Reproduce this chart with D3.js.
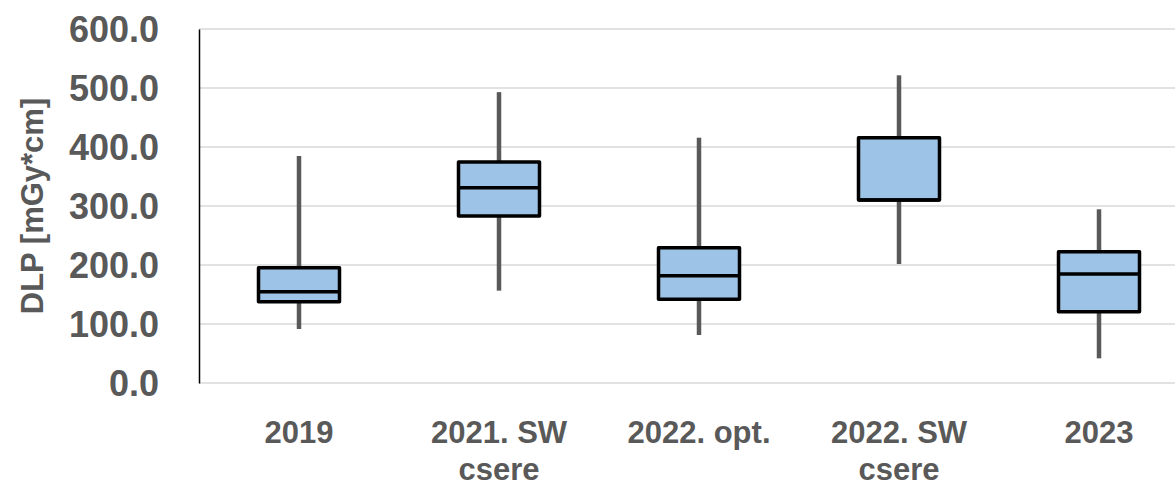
<!DOCTYPE html>
<html>
<head>
<meta charset="utf-8">
<script src="https://cdn.jsdelivr.net/npm/d3@7"></script>
<style>
    body { margin: 0; background: #fff; }
    text { font-family: "Liberation Sans", Arial, sans-serif; font-weight: bold; fill: #595959; }
</style>
</head>
<body>
<svg id="chart"></svg>
<script>
// Chart data
const categories = ["2019", "2021. SW csere", "2022. opt.", "2022. SW csere", "2023"];
const categoryLines = [["2019"], ["2021. SW", "csere"], ["2022. opt."], ["2022. SW", "csere"], ["2023"]];
const whiskerLow = [91.5, 156.5, 81.4, 201.7, 41.8];
const quartile1 = [137.8, 283.0, 141.8, 310.0, 120.9];
const medians = [154.8, 331.0, 181.9, 310.0, 184.7];
const quartile3 = [195.4, 374.6, 229.4, 415.8, 222.5];
const whiskerHigh = [384.7, 493.0, 415.8, 521.5, 294.4];
const yTicks = [0, 100, 200, 300, 400, 500, 600];

const dataset = categories.map((c, i) => ({
    cat: c,
    lines: categoryLines[i],
    min: whiskerLow[i],
    q1: quartile1[i],
    med: medians[i],
    q3: quartile3[i],
    max: whiskerHigh[i]
}));

// Dimensions
const dimensions = {
    width: 1175,
    height: 487,
    plotLeft: 199,
    plotRight: 1199,
    plotTop: 29,
    plotBottom: 383,
    boxWidth: 81
};

const svg = d3.select("#chart")
    .attr("width", dimensions.width)
    .attr("height", dimensions.height);

const xScale = d3.scaleBand()
    .domain(categories)
    .range([dimensions.plotLeft, dimensions.plotRight]);

const yScale = d3.scaleLinear()
    .domain([0, 600])
    .range([dimensions.plotBottom, dimensions.plotTop]);

// Gridlines
svg.append("g")
    .selectAll("line")
    .data(yTicks)
    .enter()
    .append("line")
    .attr("x1", dimensions.plotLeft)
    .attr("x2", dimensions.width)
    .attr("y1", d => yScale(d))
    .attr("y2", d => yScale(d))
    .attr("stroke", "#d9d9d9")
    .attr("stroke-width", 1.5);

// Y axis
const yAxis = svg.append("g")
    .attr("transform", `translate(${dimensions.plotLeft}, 0)`)
    .call(d3.axisLeft(yScale).tickValues(yTicks).tickFormat(d3.format(".1f")).tickSize(0).tickPadding(40));
yAxis.select(".domain").attr("stroke", "#000").attr("stroke-width", 1.5);
yAxis.selectAll("text")
    .attr("fill", "#595959")
    .style("font-size", "36px")
    .attr("dy", "0.36em");

// Y axis title
svg.append("text")
    .attr("transform", "translate(43, 206) rotate(-90)")
    .attr("text-anchor", "middle")
    .style("font-size", "31px")
    .text("DLP [mGy*cm]");

// X labels (wrapped like the original)
const xLabels = svg.append("g")
    .selectAll("text")
    .data(dataset)
    .enter()
    .append("text")
    .attr("text-anchor", "middle")
    .style("font-size", "31px")
    .attr("x", d => xScale(d.cat) + xScale.bandwidth() / 2)
    .attr("y", 443);
xLabels.selectAll("tspan")
    .data(d => d.lines)
    .enter()
    .append("tspan")
    .attr("x", function () { return d3.select(this.parentNode).attr("x"); })
    .attr("dy", (d, i) => i === 0 ? 0 : 37)
    .text(d => d);

// Boxes
const boxes = svg.append("g")
    .selectAll("g")
    .data(dataset)
    .enter()
    .append("g");

const cx = d => xScale(d.cat) + xScale.bandwidth() / 2;

// whiskers sit behind the box
boxes.append("line")
    .attr("x1", cx).attr("x2", cx)
    .attr("y1", d => yScale(d.max))
    .attr("y2", d => yScale(d.q3))
    .attr("stroke", "#595959")
    .attr("stroke-width", 4.5);

boxes.append("line")
    .attr("x1", cx).attr("x2", cx)
    .attr("y1", d => yScale(d.q1))
    .attr("y2", d => yScale(d.min))
    .attr("stroke", "#595959")
    .attr("stroke-width", 4.5);

boxes.append("rect")
    .attr("x", d => cx(d) - dimensions.boxWidth / 2)
    .attr("width", dimensions.boxWidth)
    .attr("y", d => yScale(d.q3))
    .attr("height", d => yScale(d.q1) - yScale(d.q3))
    .attr("fill", "#9dc3e6")
    .attr("stroke", "#000")
    .attr("stroke-width", 3.5)
    .attr("stroke-linejoin", "round");

boxes.append("line")
    .attr("x1", d => cx(d) - dimensions.boxWidth / 2)
    .attr("x2", d => cx(d) + dimensions.boxWidth / 2)
    .attr("y1", d => yScale(d.med))
    .attr("y2", d => yScale(d.med))
    .attr("stroke", "#000")
    .attr("stroke-width", 3.5);
</script>
</body>
</html>
